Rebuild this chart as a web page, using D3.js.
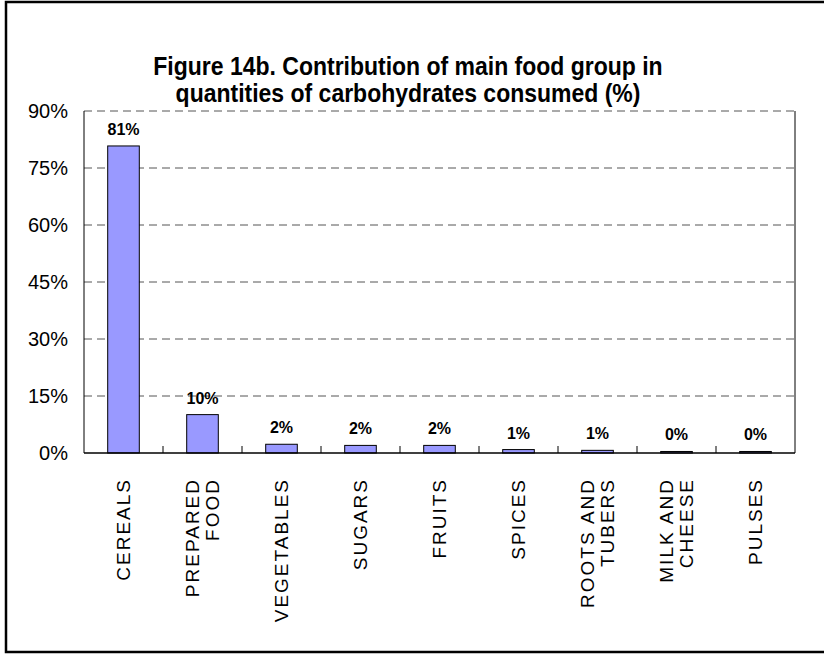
<!DOCTYPE html>
<html>
<head>
  <title>Figure 14b</title>
  <script src="https://d3js.org/d3.v7.min.js"></script>
  <style>
    body { margin: 0; background: #fff; }
    svg { display: block; font-family: Arial, "Liberation Sans", sans-serif; }
    .title { font-weight: bold; font-size: 23px; text-anchor: middle; }
    .bar { fill: #9999ff; stroke: #000; stroke-width: 1; }
    .bar-label { font-weight: bold; font-size: 16px; text-anchor: middle; }
    .y-label { font-size: 20px; text-anchor: end; }
    .x-label { font-size: 19px; letter-spacing: 2px; text-anchor: end; }
    .grid line { stroke: #555; stroke-dasharray: 8,5; }
  </style>
</head>
<body>
  <div id="chart"></div>
  <script>
    const categories = [
      ["CEREALS"],
      ["PREPARED", "FOOD"],
      ["VEGETABLES"],
      ["SUGARS"],
      ["FRUITS"],
      ["SPICES"],
      ["ROOTS AND", "TUBERS"],
      ["MILK AND", "CHEESE"],
      ["PULSES"]
    ];
    const values = [80.8, 10.1, 2.3, 2.0, 2.0, 0.9, 0.7, 0.4, 0.4];
    const valueLabels = ["81%", "10%", "2%", "2%", "2%", "1%", "1%", "0%", "0%"];
    const yTicks = [0, 15, 30, 45, 60, 75, 90];
    const titleLines = [
      "Figure 14b. Contribution of main food group in",
      "quantities of carbohydrates consumed (%)"
    ];

    const width = 824, height = 656;
    const plot = { left: 84, right: 795, top: 111, bottom: 453 };

    const svg = d3.select("#chart").append("svg")
      .attr("width", width)
      .attr("height", height);

    // outer frame (right edge is cut off in the original)
    svg.append("rect")
      .attr("x", 6).attr("y", 2)
      .attr("width", 840).attr("height", 650)
      .attr("fill", "none")
      .attr("stroke", "#000")
      .attr("stroke-width", 2.5);

    // title, slightly stretched vertically like the original
    svg.selectAll(".title")
      .data(titleLines)
      .enter().append("text")
        .attr("class", "title")
        .attr("transform", (d, i) => `translate(408,${75 + i * 27}) scale(1,1.1)`)
        .text(d => d);

    const x = d3.scaleBand()
      .domain(d3.range(categories.length))
      .range([plot.left, plot.right])
      .paddingInner(0.6)
      .paddingOuter(0.3);

    const y = d3.scaleLinear()
      .domain([0, 90])
      .range([plot.bottom, plot.top]);

    // dashed gridlines
    svg.append("g")
      .attr("class", "grid")
      .selectAll("line")
      .data(yTicks.filter(d => d > 0))
      .enter().append("line")
        .attr("x1", plot.left)
        .attr("x2", plot.right)
        .attr("y1", d => y(d))
        .attr("y2", d => y(d));

    // y tick labels
    svg.selectAll(".y-label")
      .data(yTicks)
      .enter().append("text")
        .attr("class", "y-label")
        .attr("x", 68)
        .attr("y", d => y(d))
        .attr("dy", "0.36em")
        .text(d => d + "%");

    // bars
    svg.selectAll(".bar")
      .data(values)
      .enter().append("rect")
        .attr("class", "bar")
        .attr("x", (d, i) => x(i))
        .attr("width", x.bandwidth())
        .attr("y", d => y(d))
        .attr("height", d => y(0) - y(d));

    svg.selectAll(".bar-label")
      .data(values)
      .enter().append("text")
        .attr("class", "bar-label")
        .attr("x", (d, i) => x(i) + x.bandwidth() / 2)
        .attr("y", d => y(d) - 11)
        .text((d, i) => valueLabels[i]);

    // axes lines
    const step = (plot.right - plot.left) / categories.length;
    svg.append("line")
      .attr("x1", plot.left).attr("x2", plot.left)
      .attr("y1", plot.top).attr("y2", plot.bottom)
      .attr("stroke", "#000");
    svg.append("line")
      .attr("x1", plot.right).attr("x2", plot.right)
      .attr("y1", plot.top).attr("y2", plot.bottom)
      .attr("stroke", "#000");
    svg.append("line")
      .attr("x1", plot.left).attr("x2", plot.right)
      .attr("y1", plot.bottom).attr("y2", plot.bottom)
      .attr("stroke", "#000")
      .attr("stroke-width", 1.5);

    // inside tick marks between categories
    svg.selectAll(".xtick")
      .data(d3.range(1, categories.length))
      .enter().append("line")
        .attr("x1", i => plot.left + i * step)
        .attr("x2", i => plot.left + i * step)
        .attr("y1", plot.bottom)
        .attr("y2", plot.bottom - 7)
        .attr("stroke", "#000");

    // rotated category labels
    const labels = svg.selectAll(".x-label")
      .data(categories)
      .enter().append("text")
        .attr("class", "x-label")
        .attr("transform", (d, i) => {
          const cx = x(i) + x.bandwidth() / 2;
          return `translate(${cx},${plot.bottom + 25}) rotate(-90)`;
        });

    labels.selectAll("tspan")
      .data(d => d.map((t, j) => ({ t, j, n: d.length })))
      .enter().append("tspan")
        .attr("x", 0)
        .attr("y", p => (p.j - (p.n - 1) / 2) * 20)
        .attr("dy", "0.36em")
        .text(p => p.t);
  </script>
</body>
</html>
